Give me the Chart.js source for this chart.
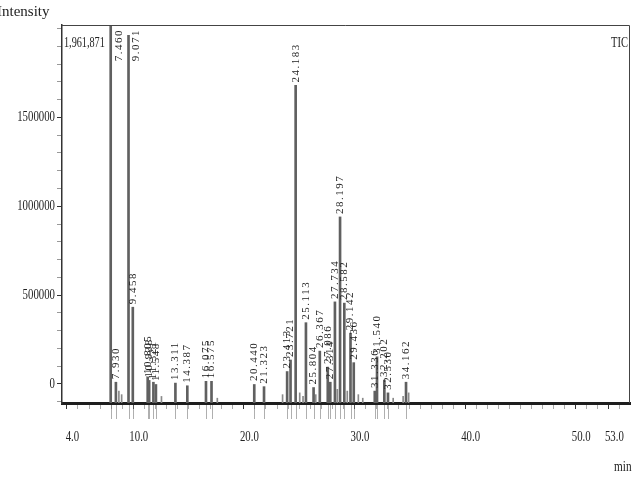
<!DOCTYPE html>
<html>
<head>
<meta charset="utf-8">
<script src="https://cdn.jsdelivr.net/npm/chart.js@4/dist/chart.umd.min.js"></script>
<style>
  html, body { margin: 0; padding: 0; background: #fff; }
  #wrap { width: 640px; height: 480px; }
</style>
</head>
<body>
<div id="wrap"><canvas id="tic"></canvas></div>
<script>
// retention times (min) and peak tops (intensity)
const peakTimes = [7.460, 7.930, 9.071, 9.458, 10.805, 10.938, 11.321, 11.548,
  13.311, 14.387, 16.075, 16.575, 20.440, 21.323, 23.413, 23.721, 24.183,
  25.113, 25.804, 26.367, 27.086, 27.314, 27.734, 28.197, 28.582, 29.142,
  29.436, 31.336, 31.540, 32.202, 32.530, 34.162];
const peakHeights = [2100000, 10000, 1961871, 432000, 40000, 20000, 10000, 0,
  5000, -10000, 15000, 15000, 0, -15000, 70000, 135000, 1680000,
  345000, -20000, 185000, 95000, 10000, 462000, 940000, 455000, 286000,
  120000, -40000, 153000, 22000, -50000, 10000];

// small unlabelled bumps
const minorTimes = [8.20, 8.45, 12.05, 17.10, 23.00, 24.55, 24.85, 26.00, 27.95, 28.85, 29.85, 30.25, 33.00, 33.90, 34.40];
const minorHeights = [-40000, -60000, -70000, -80000, -60000, -50000, -70000, -60000, -30000, -40000, -60000, -80000, -80000, -70000, -50000];

const xTickLabels = [4, 10, 20, 30, 40, 50, 53];
const yTickLabels = [0, 500000, 1000000, 1500000];
const maxIntensity = '1,961,871';

const Y_MIN = -107000;
const Y_MAX = 2020000;
const SERIF = '"Liberation Serif", "DejaVu Serif", serif';

const minorXTicks = [];
for (let v = 4; v <= 53; v++) minorXTicks.push(v);
const minorYTicks = [];
for (let v = -100000; v <= 2000000; v += 100000) minorYTicks.push(v);

// narrow serif text, like the printout
function narrowText(ctx, txt, x, y, align, sx) {
  ctx.save();
  ctx.translate(x, y);
  ctx.scale(sx, 1);
  ctx.textAlign = align;
  ctx.fillText(txt, 0, 0);
  ctx.restore();
}

const peakLabels = {
  id: 'peakLabels',
  afterDatasetsDraw(chart) {
    const { ctx, chartArea, scales } = chart;
    ctx.save();
    ctx.font = '11px ' + SERIF;
    ctx.letterSpacing = '1.5px';
    ctx.fillStyle = '#222';
    ctx.textBaseline = 'middle';
    peakTimes.forEach((t, i) => {
      const txt = t.toFixed(3);
      const x = scales.x.getPixelForValue(t);
      const y = Math.max(scales.y.getPixelForValue(peakHeights[i]), chartArea.top);
      const w = ctx.measureText(txt).width;
      ctx.save();
      if (y - 3 - w < chartArea.top) {
        ctx.translate(x + 8, chartArea.top + 4);
        ctx.rotate(-Math.PI / 2);
        ctx.textAlign = 'right';
      } else {
        ctx.translate(x, y - 3);
        ctx.rotate(-Math.PI / 2);
        ctx.textAlign = 'left';
      }
      ctx.fillText(txt, 0, 0);
      ctx.restore();
    });
    ctx.restore();
  }
};

const frame = {
  id: 'frame',
  afterDraw(chart) {
    const { ctx, chartArea, scales } = chart;
    const { left, right, top, bottom } = chartArea;
    ctx.save();
    // top and right edge of the box
    ctx.strokeStyle = '#444';
    ctx.lineWidth = 1;
    ctx.beginPath();
    ctx.moveTo(left, top + 0.5);
    ctx.lineTo(right - 0.5, top + 0.5);
    ctx.lineTo(right - 0.5, bottom);
    ctx.stroke();

    // peak marks hanging under the baseline
    ctx.strokeStyle = 'rgba(110,110,110,0.55)';
    ctx.beginPath();
    peakTimes.forEach(t => {
      const x = Math.round(scales.x.getPixelForValue(t)) + 0.5;
      ctx.moveTo(x, bottom + 2);
      ctx.lineTo(x, bottom + 16);
    });
    ctx.stroke();

    ctx.fillStyle = '#222';
    ctx.textBaseline = 'middle';
    ctx.font = '15px ' + SERIF;

    // axis numbers
    xTickLabels.forEach(v => {
      narrowText(ctx, v.toFixed(1), scales.x.getPixelForValue(v), 437, 'center', 0.72);
    });
    yTickLabels.forEach(v => {
      narrowText(ctx, String(v), left - 7, scales.y.getPixelForValue(v), 'right', 0.72);
    });

    ctx.textAlign = 'left';
    ctx.fillText('Intensity', -3, 12);
    narrowText(ctx, 'min', 614, 467, 'left', 0.75);
    narrowText(ctx, maxIntensity, left + 2, 43, 'left', 0.68);
    narrowText(ctx, 'TIC', right - 2, 43, 'right', 0.7);
    ctx.restore();
  }
};

new Chart(document.getElementById('tic'), {
  type: 'bar',
  data: {
    datasets: [
      {
        data: peakTimes.map((t, i) => ({ x: t, y: [Y_MIN, peakHeights[i]] })),
        backgroundColor: '#606060',
        barThickness: 2,
        grouped: false
      },
      {
        data: minorTimes.map((t, i) => ({ x: t, y: [Y_MIN, minorHeights[i]] })),
        backgroundColor: '#8a8a8a',
        barThickness: 1,
        grouped: false
      }
    ]
  },
  options: {
    responsive: true,
    maintainAspectRatio: false,
    animation: false,
    layout: { padding: { top: 25, right: 10, left: 0, bottom: 0 } },
    plugins: {
      legend: { display: false },
      tooltip: { enabled: false }
    },
    scales: {
      x: {
        type: 'linear',
        min: 3.57,
        max: 53.9,
        afterBuildTicks(scale) {
          scale.ticks = minorXTicks.map(v => ({ value: v }));
        },
        afterFit(scale) { scale.height = 77; },
        grid: {
          drawOnChartArea: false,
          tickLength: 6,
          tickColor: ctx => xTickLabels.includes(ctx.tick && ctx.tick.value) ? '#333' : '#aaa'
        },
        border: { color: '#1e1e1e', width: 3 },
        ticks: { display: false }
      },
      y: {
        min: Y_MIN,
        max: Y_MAX,
        afterBuildTicks(scale) {
          scale.ticks = minorYTicks.map(v => ({ value: v }));
        },
        afterFit(scale) { scale.width = 62; },
        grid: {
          drawOnChartArea: false,
          tickLength: 5,
          tickColor: ctx => yTickLabels.includes(ctx.tick && ctx.tick.value) ? '#333' : '#999'
        },
        border: { color: '#333', width: 1.5 },
        ticks: { display: false }
      }
    }
  },
  plugins: [peakLabels, frame]
});
</script>
</body>
</html>
